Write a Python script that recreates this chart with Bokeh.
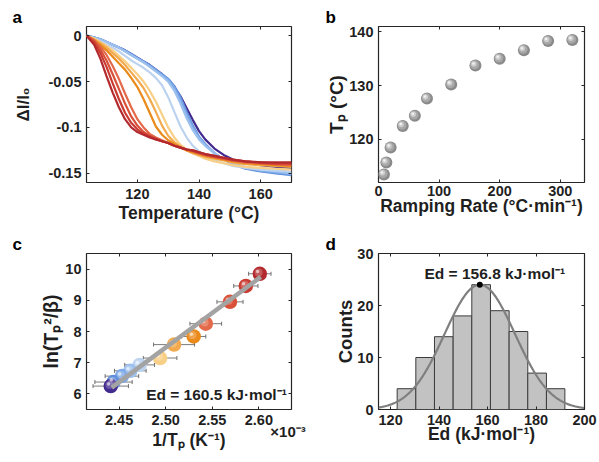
import numpy as np
from bokeh.plotting import figure
from bokeh.models import (Range1d, LinearAxis, FixedTicker, Whisker, Label,
                          ColumnDataSource, TeeHead)
from bokeh.layouts import gridplot
from bokeh.embed import file_html
from bokeh.resources import INLINE

FONT = "Liberation Sans"
INK = "#1f1f1f"
FRAME = "#262626"

# ---------------- panel a : dI/I0 vs temperature ----------------
temperature = [103.5, 106, 108, 110, 112, 114, 116, 118, 120, 122, 124, 126, 128, 130,
               132, 134, 136, 138, 140, 142, 145, 148, 151, 155, 160, 165, 170]
dI_01 = [0, -0.010, -0.025, -0.044, -0.062, -0.078, -0.091, -0.100, -0.105, -0.108, -0.111, -0.113, -0.115, -0.117,
         -0.120, -0.122, -0.124, -0.125, -0.127, -0.129, -0.131, -0.133, -0.135, -0.137, -0.138, -0.138, -0.138]
dI_02 = [0, -0.008, -0.019, -0.034, -0.052, -0.069, -0.084, -0.095, -0.102, -0.107, -0.110, -0.113, -0.115, -0.117,
         -0.120, -0.122, -0.124, -0.125, -0.127, -0.129, -0.131, -0.133, -0.135, -0.137, -0.138, -0.139, -0.139]
dI_03 = [0, -0.006, -0.015, -0.027, -0.042, -0.058, -0.074, -0.088, -0.098, -0.105, -0.109, -0.112, -0.115, -0.117,
         -0.120, -0.122, -0.124, -0.126, -0.128, -0.130, -0.132, -0.134, -0.136, -0.137, -0.139, -0.140, -0.140]
dI_04 = [0, -0.005, -0.012, -0.021, -0.033, -0.047, -0.063, -0.078, -0.091, -0.100, -0.107, -0.111, -0.114, -0.117,
         -0.120, -0.122, -0.124, -0.126, -0.128, -0.130, -0.132, -0.134, -0.136, -0.138, -0.139, -0.140, -0.141]
dI_05 = [0, -0.005, -0.010, -0.016, -0.023, -0.030, -0.037, -0.046, -0.056, -0.069, -0.084, -0.099, -0.108, -0.114,
         -0.118, -0.122, -0.125, -0.127, -0.129, -0.131, -0.133, -0.135, -0.137, -0.139, -0.140, -0.141, -0.142]
dI_06 = [0, -0.004, -0.008, -0.013, -0.019, -0.025, -0.032, -0.040, -0.048, -0.057, -0.069, -0.083, -0.098, -0.109,
         -0.116, -0.121, -0.125, -0.128, -0.130, -0.132, -0.134, -0.136, -0.138, -0.140, -0.141, -0.142, -0.143]
dI_07 = [0, -0.003, -0.007, -0.011, -0.016, -0.022, -0.028, -0.035, -0.042, -0.050, -0.060, -0.072, -0.086, -0.100,
         -0.111, -0.119, -0.124, -0.128, -0.131, -0.134, -0.137, -0.139, -0.141, -0.143, -0.144, -0.145, -0.146]
dI_08 = [0, -0.003, -0.006, -0.009, -0.013, -0.017, -0.022, -0.027, -0.031, -0.035, -0.040, -0.046, -0.054, -0.067,
         -0.083, -0.099, -0.111, -0.120, -0.126, -0.131, -0.136, -0.139, -0.142, -0.144, -0.146, -0.147, -0.148]
dI_09 = [0, -0.002, -0.004, -0.007, -0.010, -0.013, -0.017, -0.021, -0.025, -0.029, -0.034, -0.039, -0.044, -0.050,
         -0.060, -0.074, -0.090, -0.103, -0.113, -0.120, -0.128, -0.135, -0.139, -0.143, -0.146, -0.148, -0.150]
dI_10 = [0, -0.002, -0.004, -0.007, -0.010, -0.013, -0.017, -0.021, -0.025, -0.029, -0.033, -0.038, -0.043, -0.048,
         -0.057, -0.070, -0.086, -0.100, -0.111, -0.119, -0.128, -0.135, -0.139, -0.144, -0.147, -0.149, -0.151]
dI_11 = [0, -0.002, -0.004, -0.007, -0.010, -0.013, -0.016, -0.020, -0.024, -0.028, -0.032, -0.037, -0.042, -0.047,
         -0.055, -0.067, -0.083, -0.098, -0.110, -0.118, -0.128, -0.135, -0.140, -0.145, -0.148, -0.150, -0.152]
dI_12 = [0, -0.002, -0.004, -0.007, -0.010, -0.013, -0.016, -0.020, -0.024, -0.028, -0.032, -0.037, -0.042, -0.048,
         -0.056, -0.066, -0.079, -0.092, -0.104, -0.113, -0.123, -0.130, -0.135, -0.139, -0.141, -0.143, -0.144]
series_colors = ["#b22a2e", "#c93a31", "#d95038", "#e4694a", "#ea8a1a", "#f3a94e",
                 "#f8cf86", "#bcd3f0", "#9cc0ee", "#7eaae8", "#5f8fdc", "#432a8e"]
a_yticks = [-0.15, -0.1, -0.05, 0]
a_ylabels = ["-0.15", "-0.1", "-0.05", "0"]
a_xticks = [120, 140, 160]

# ---------------- panel b : Tp vs ramping rate ----------------
ramp_rate = [9, 13, 20, 40, 60, 80, 120, 160, 200, 240, 280, 320]
peak_temp = [113.5, 115.7, 118.5, 122.5, 124.4, 127.6, 130.2, 133.75, 135.0, 136.6, 138.3, 138.5]
b_xticks = [0, 100, 200, 300]
b_yticks = [120, 130, 140]

# ---------------- panel c : Kissinger plot ----------------
inv_tp = [2.601, 2.586, 2.569, 2.543, 2.530, 2.509, 2.494, 2.472, 2.462, 2.453, 2.444, 2.441]
ln_tp2_beta = [9.85, 9.46, 8.95, 8.25, 7.84, 7.58, 7.15, 6.93, 6.74, 6.57, 6.38, 6.25]
inv_tp_err = [0.012, 0.013, 0.014, 0.017, 0.013, 0.022, 0.018, 0.016, 0.017, 0.018, 0.020, 0.019]
ln_err = [0.09, 0.09, 0.09, 0.09, 0.09, 0.09, 0.09, 0.09, 0.09, 0.09, 0.09, 0.09]
fit_x = [2.442, 2.602]
fit_y = [6.20, 9.75]
c_xticks = [2.45, 2.50, 2.55, 2.60]
c_xlabels = ["2.45", "2.50", "2.55", "2.60"]
c_yticks = [6, 7, 8, 9, 10]
c_exponent = "×10⁻³"
c_exponent_at = 2.6313   # horizontal anchor of the exponent note

# ---------------- panel d : histogram of Ed ----------------
bin_edges = [122.7, 130.4, 138.1, 145.8, 153.5, 161.2, 168.9, 176.6, 184.3, 191.9]
bin_counts = [4, 10, 14, 18, 24, 19, 15, 7, 4]
fit_mu, fit_sigma, fit_amp = 156.8, 14.5, 24.0
d_xticks = [120, 140, 160, 180, 200]
d_yticks = [0, 10, 20, 30]


def make_fig(letter, w, h, xr, yr, bl, br, bt, bb, loff):
    p = figure(width=w, height=h, x_range=Range1d(*xr), y_range=Range1d(*yr),
               output_backend="svg", toolbar_location=None, tools="", title=letter)
    p.min_border = 0
    p.min_border_left, p.min_border_right = bl, br
    p.min_border_top, p.min_border_bottom = bt, bb
    p.outline_line_color = FRAME
    p.outline_line_width = 1.2
    p.grid.visible = False
    p.background_fill_color = "white"
    p.border_fill_color = "white"
    t = p.title
    t.align = "left"
    t.offset = loff
    t.standoff = 0
    t.text_font = FONT
    t.text_font_style = "bold"
    t.text_font_size = "17px"
    t.text_color = "black"
    return p


def style_axes(p, xticks, yticks, xlabel, ylabel, xover=None, yover=None,
               xstand=5, ystand=5, xlab_st=1, ylab_st=4, ylab_size="17px"):
    for ax, ticks, lab, over, st, lst in ((p.xaxis[0], xticks, xlabel, xover, xstand, xlab_st),
                                          (p.yaxis[0], yticks, ylabel, yover, ystand, ylab_st)):
        ax.ticker = FixedTicker(ticks=ticks)
        if over:
            ax.major_label_overrides = over
        ax.axis_line_color = None
        ax.major_tick_in = 3
        ax.major_tick_out = 0
        ax.major_tick_line_color = FRAME
        ax.minor_tick_line_color = None
        ax.major_label_standoff = st
        ax.major_label_text_font = FONT
        ax.major_label_text_font_style = "bold"
        ax.major_label_text_font_size = "14.5px"
        ax.major_label_text_color = INK
        ax.axis_label = lab
        ax.axis_label_standoff = lst
        ax.axis_label_text_font = FONT
        ax.axis_label_text_font_style = "bold"
        ax.axis_label_text_font_size = "17.5px"
        ax.axis_label_text_color = INK
    p.yaxis[0].axis_label_text_font_size = ylab_size
    for loc, ticks in (("above", xticks), ("right", yticks)):
        ax = LinearAxis(ticker=FixedTicker(ticks=ticks))
        ax.major_label_overrides = {t: "" for t in ticks}
        ax.major_label_text_font_size = "1px"
        ax.major_label_standoff = 0
        ax.axis_line_color = None
        ax.major_tick_in = 3
        ax.major_tick_out = 0
        ax.major_tick_line_color = FRAME
        ax.minor_tick_line_color = None
        p.add_layout(ax, loc)


LW, RW = 312, 287

# ---- panel a
pa = make_fig("a", LW, 231, (103.5, 170), (-0.16, 0.01), 86, 21, 26, 49, -74)
curves = [dI_01, dI_02, dI_03, dI_04, dI_05, dI_06, dI_07, dI_08, dI_09, dI_10, dI_11, dI_12]
for ys, col in reversed(list(zip(curves, series_colors))):
    pa.line(temperature, ys, line_color=col, line_width=2.2)
style_axes(pa, a_xticks, a_yticks, "Temperature (°C)", "ΔI/I₀",
           yover=dict(zip(a_yticks, a_ylabels)), xstand=6, ylab_st=12)

# ---- panel b
pb = make_fig("b", RW, 231, (0, 340), (112, 141), 66, 15, 26, 48, -53)
bx = np.array(ramp_rate, dtype=float)
by = np.array(peak_temp, dtype=float)
ux = 340 / 206.0
uy = 29 / 157.0
pb.scatter(bx, by, size=12, fill_color="#8a8a8a", line_color=None)
pb.scatter(bx - 0.8 * ux, by + 0.8 * uy, size=9, fill_color="#a8a8a8", line_color=None)
pb.scatter(bx - 1.6 * ux, by + 1.6 * uy, size=5.5, fill_color="#cdcdcd", line_color=None)
pb.scatter(bx - 2.0 * ux, by + 2.0 * uy, size=2.5, fill_color="#f2f2f2", line_color=None)
style_axes(pb, b_xticks, b_yticks, "Ramping Rate (°C·min⁻¹)", "Tₚ (°C)",
           xstand=3, xlab_st=-3, ylab_st=-1, ylab_size="19px")

# ---- panel c
pc = make_fig("c", LW, 231, (2.415, 2.635), (5.5, 10.5), 86, 21, 22, 52, -74)
cx = np.array(inv_tp)
cy = np.array(ln_tp2_beta)
ex = np.array(inv_tp_err)
ey = np.array(ln_err)
vx = 0.22 / 205.0
vy = 5.0 / 157.0
pc.scatter(cx, cy, size=14.5, fill_color=series_colors, line_color=None)
pc.scatter(cx - 1.2 * vx, cy + 1.2 * vy, size=8, fill_color="white", fill_alpha=0.22, line_color=None)
pc.scatter(cx - 2.2 * vx, cy + 2.2 * vy, size=3.5, fill_color="white", fill_alpha=0.6, line_color=None)
src = ColumnDataSource(dict(x=cx, y=cy, xl=cx - ex, xu=cx + ex, yl=cy - ey, yu=cy + ey))
pc.add_layout(Whisker(source=src, base="y", lower="xl", upper="xu", dimension="width",
                      line_color="#6e6e6e", line_width=1, line_alpha=0.9,
                      lower_head=TeeHead(size=4, line_color="#6e6e6e", line_width=1),
                      upper_head=TeeHead(size=4, line_color="#6e6e6e", line_width=1)))
pc.add_layout(Whisker(source=src, base="x", lower="yl", upper="yu", dimension="height",
                      line_color="#555555", line_width=1, line_alpha=0.8,
                      lower_head=None, upper_head=None))
pc.line(fit_x, fit_y, line_color="#a3a3a3", line_width=4.5)
style_axes(pc, c_xticks, c_yticks, "", "ln(Tₚ²/β)",
           xover=dict(zip(c_xticks, c_xlabels)), xstand=5, xlab_st=0, ylab_st=0,
           ylab_size="19.5px")
pc.xaxis[0].axis_label = None
exp_axis = LinearAxis(ticker=FixedTicker(ticks=[c_exponent_at]),
                      major_label_overrides={c_exponent_at: c_exponent})
exp_axis.axis_line_color = None
exp_axis.major_tick_line_color = None
exp_axis.minor_tick_line_color = None
exp_axis.major_label_standoff = -11
exp_axis.major_label_text_font = FONT
exp_axis.major_label_text_font_style = "bold"
exp_axis.major_label_text_font_size = "15px"
exp_axis.major_label_text_color = INK
exp_axis.axis_label = "1/Tₚ (K⁻¹)"
exp_axis.axis_label_standoff = -13
exp_axis.axis_label_text_font = FONT
exp_axis.axis_label_text_font_style = "bold"
exp_axis.axis_label_text_font_size = "17.5px"
exp_axis.axis_label_text_color = INK
pc.add_layout(exp_axis, "below")
pc.add_layout(Label(x=2.5545, y=5.98, text="Ed = 160.5 kJ·mol⁻¹", text_font=FONT,
                    text_font_style="bold", text_font_size="15.5px", text_color=INK,
                    text_align="center", text_baseline="middle"))

# ---- panel d
pd_ = make_fig("d", RW, 231, (115, 200), (0, 30), 66, 15, 22, 53, -53)
pd_.quad(left=bin_edges[:-1], right=bin_edges[1:], bottom=0, top=bin_counts,
         fill_color="#c2c2c2", line_color="#3c3c3c", line_width=1)
gx = np.linspace(115, 200, 300)
gy = fit_amp * np.exp(-(gx - fit_mu) ** 2 / (2 * fit_sigma ** 2))
pd_.line(gx, gy, line_color="#7f7f7f", line_width=2.2)
pd_.scatter([fit_mu], [fit_amp], size=6, fill_color="black", line_color=None)
style_axes(pd_, d_xticks, d_yticks, "Ed (kJ·mol⁻¹)", "Counts", xstand=5, xlab_st=-4,
           ylab_st=-2, ylab_size="18.5px")
pd_.add_layout(Label(x=163, y=26.2, text="Ed = 156.8 kJ·mol⁻¹", text_font=FONT,
                     text_font_style="bold", text_font_size="15.5px", text_color=INK,
                     text_align="center", text_baseline="middle"))

grid = gridplot([[pa, pb], [pc, pd_]], toolbar_location=None)
open("out.html", "w").write(file_html(grid, INLINE))
